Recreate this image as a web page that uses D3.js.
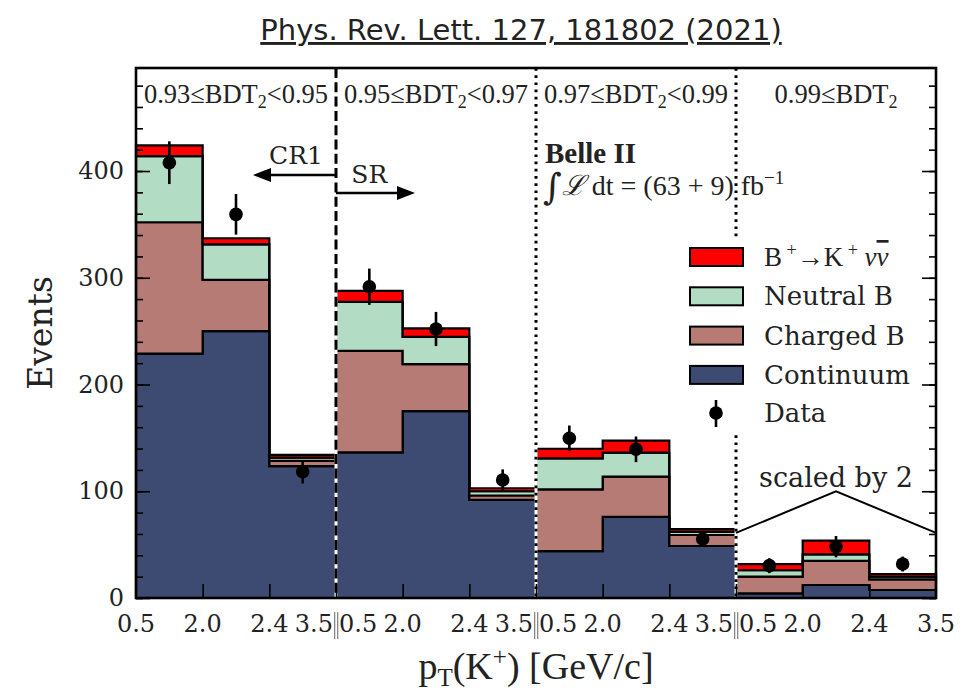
<!DOCTYPE html>
<html>
<head>
<meta charset="utf-8">
<script src="https://cdn.jsdelivr.net/npm/d3@7"></script>
<style>
  body { margin: 0; background: #fff; }
  text { font-family: "DejaVu Serif", serif; fill: #222; }
</style>
</head>
<body>
<div id="chart"></div>
<script>

// 4 BDT2 regions x 3 pT(K+) bins; last region is drawn scaled by 2
const regionLabels = [["0.93≤BDT", "2", "<0.95"], ["0.95≤BDT", "2", "<0.97"], ["0.97≤BDT", "2", "<0.99"], ["0.99≤BDT", "2", ""]];
const binEdgeLabels = ["0.5", "2.0", "2.4", "3.5"];
const yTicks = [0, 100, 200, 300, 400];

const continuum = [229, 250, 123.5, 136.5, 175, 92, 44, 76, 48.7, 4.4, 12.2, 7.5];
const chargedB  = [123, 48, 5, 95, 44, 4, 57.8, 37.7, 10.3, 15.6, 22.5, 10];
const neutralB  = [62, 33.3, 3, 46, 25.6, 4, 29, 22.5, 3, 6, 6.2, 2.5];
const signal    = [10, 5.7, 2.5, 10.3, 8, 2.8, 9, 11.2, 2.6, 5.8, 12.8, 2.5];
const dataVals  = [407.8, 359.4, 118.3, 291.6, 252, 110.5, 149.6, 139.3, 55.3, 30.3, 48.1, 31.8];
const dataErr   = [20, 19, 11, 17, 16, 10, 12, 12, 7.5, 7, 10, 7];

const keys = ["continuum", "charged", "neutral", "signal"];
const names = {neutral: "Neutral B", charged: "Charged B", continuum: "Continuum"};
const color = d3.scaleOrdinal()
  .domain(keys)
  .range(["#3d4b73", "#b67b75", "#b2dcc3", "#ff0000"]);

var margin = {top: 68, right: 26, bottom: 92, left: 136},
    W = 962, H = 690,
    width = W - margin.left - margin.right,
    height = H - margin.top - margin.bottom;

var svg = d3.select("#chart").append("svg")
  .attr("width", W).attr("height", H);

var g = svg.append("g")
  .attr("transform", "translate(" + margin.left + "," + margin.top + ")");

const x = d3.scaleLinear().domain([0, 12]).range([0, width]);
const y = d3.scaleLinear().domain([0, 496.5]).range([height, 0]);

const rows = continuum.map((c, i) => ({continuum: c, charged: chargedB[i], neutral: neutralB[i], signal: signal[i]}));
const stacked = d3.stack().keys(keys)(rows);

// stepfilled histogram, one polygon per layer per region
const line = d3.line().x(d => x(d[0])).y(d => y(d[1]));
d3.range(4).forEach(function (r) {
  stacked.forEach(function (layer) {
    var top = [], bot = [];
    for (var i = r * 3; i < r * 3 + 3; i++) {
      top.push([i, layer[i][1]], [i + 1, layer[i][1]]);
      bot.push([i, layer[i][0]], [i + 1, layer[i][0]]);
    }
    g.append("path")
      .attr("d", line(top.concat(bot.reverse())) + "Z")
      .attr("fill", color(layer.key))
      .attr("stroke", "#000")
      .attr("stroke-width", 2.2)
      .attr("stroke-linejoin", "miter");
  });
});

// region separators
const seps = [{b: 3, dash: "10,4.3"}, {b: 6, dash: "2.7,4.5"}, {b: 9, dash: "2.7,4.5"}];
seps.forEach(function (s) {
  g.append("line").attr("x1", x(s.b)).attr("x2", x(s.b)).attr("y1", 0).attr("y2", height)
    .attr("stroke", "#fff").attr("stroke-width", 3);
  g.append("line").attr("x1", x(s.b)).attr("x2", x(s.b)).attr("y1", 0).attr("y2", height)
    .attr("stroke", "#000").attr("stroke-width", 3).attr("stroke-dasharray", s.dash);
});

// data points
const pts = g.append("g");
dataVals.forEach(function (v, i) {
  pts.append("line")
    .attr("x1", x(i + 0.5)).attr("x2", x(i + 0.5))
    .attr("y1", y(v - dataErr[i])).attr("y2", y(v + dataErr[i]))
    .attr("stroke", "#000").attr("stroke-width", 2.6);
  pts.append("circle").attr("cx", x(i + 0.5)).attr("cy", y(v)).attr("r", 6.8).attr("fill", "#000");
});

// "scaled by 2" tent
g.append("path")
  .attr("d", line([[9, 61], [10.5, 100], [12, 61]]))
  .attr("fill", "none").attr("stroke", "#000").attr("stroke-width", 2);
g.append("text").attr("x", x(10.5)).attr("y", y(104))
  .attr("text-anchor", "middle").style("font-size", "27px").text("scaled by 2");

// region labels
regionLabels.forEach(function (l, r) {
  var t = g.append("text")
    .attr("x", x(r * 3 + 1.5)).attr("y", 35)
    .attr("text-anchor", "middle")
    .style("font-family", "'Liberation Serif', serif")
    .style("font-size", "26.5px");
  t.append("tspan").text(l[0]);
  t.append("tspan").attr("dy", 5).style("font-size", "18px").text(l[1]);
  t.append("tspan").attr("dy", -5).text(l[2]);
});

// CR1 / SR arrows
function arrow(x0, x1, yy) {
  var dir = x1 > x0 ? 1 : -1;
  g.append("line").attr("x1", x(x0)).attr("x2", x(x1) - dir * 12).attr("y1", yy).attr("y2", yy)
    .attr("stroke", "#000").attr("stroke-width", 2.4);
  g.append("path")
    .attr("d", "M" + x(x1) + "," + yy + "L" + (x(x1) - dir * 18) + "," + (yy - 7) + "L" + (x(x1) - dir * 18) + "," + (yy + 7) + "Z")
    .attr("fill", "#000");
}
arrow(3, 1.755, 107);
arrow(3, 4.185, 125);
g.append("text").attr("x", x(2.4)).attr("y", 96).attr("text-anchor", "middle").style("font-size", "25px").text("CR1");
g.append("text").attr("x", x(3.5)).attr("y", 115).attr("text-anchor", "middle").style("font-size", "25px").text("SR");

// Belle II label
g.append("text").attr("x", 409).attr("y", 95)
  .style("font-family", "'Liberation Serif', serif").style("font-weight", "bold").style("font-size", "29px")
  .text("Belle II");
var lumi = g.append("text").attr("x", 407).attr("y", 127)
  .style("font-family", "'Liberation Serif', serif").style("font-size", "28px");
lumi.append("tspan").style("font-size", "36px").style("font-family", "'DejaVu Serif', serif").attr("dy", 4).text("∫");
lumi.append("tspan").attr("dy", -4).style("font-style", "italic").text("ℒ");
lumi.append("tspan").text(" dt = (63 + 9) fb");
lumi.append("tspan").attr("dy", -11).style("font-size", "19px").text("−1");

// legend
var leg = g.append("g").attr("transform", "translate(" + (680 - margin.left) + "," + (238 - margin.top) + ")");
leg.append("rect").attr("width", 240).attr("height", 194).attr("fill", "#fff");
["signal", "neutral", "charged", "continuum"].forEach(function (k, i) {
  var yy = 19 + i * 39.3;
  leg.append("rect").attr("x", 10).attr("y", yy - 9).attr("width", 53).attr("height", 18)
    .attr("fill", color(k)).attr("stroke", "#000").attr("stroke-width", 2);
  var t = leg.append("text").attr("x", 84).attr("y", yy + 9).style("font-size", "26px");
  if (k === "signal") {
    t.style("font-family", "'Liberation Serif', serif").style("font-size", "27px");
    t.append("tspan").text("B");
    t.append("tspan").attr("dy", -10).style("font-size", "18px").text(" +");
    t.append("tspan").attr("dy", 10).text("→K");
    t.append("tspan").attr("dy", -10).style("font-size", "18px").text(" +");
    t.append("tspan").attr("dy", 10).style("font-style", "italic").text(" ν");
    t.append("tspan").style("font-style", "italic").style("text-decoration", "overline").text("ν");
  } else {
    t.text(names[k]);
  }
});
leg.append("line").attr("x1", 36).attr("x2", 36).attr("y1", 162).attr("y2", 189)
  .attr("stroke", "#000").attr("stroke-width", 2.6);
leg.append("circle").attr("cx", 36).attr("cy", 175).attr("r", 6.8).attr("fill", "#000");
leg.append("text").attr("x", 84).attr("y", 184).style("font-size", "26px").text("Data");

// axes: ticks inside on left, right and bottom
function ticksOnly(axis) { return function (sel) { sel.call(axis); sel.select(".domain").remove(); }; }
g.append("g").call(ticksOnly(d3.axisLeft(y).tickValues(d3.range(0, 497, 20)).tickSize(-7).tickFormat("")));
g.append("g").call(ticksOnly(d3.axisLeft(y).tickValues(yTicks).tickSize(-14).tickPadding(12)))
  .selectAll("text").style("font-size", "24px").style("font-family", "'DejaVu Serif', serif").attr("fill", "#222");
g.append("g").attr("transform", "translate(" + width + ",0)")
  .call(ticksOnly(d3.axisRight(y).tickValues(d3.range(0, 497, 20)).tickSize(-7).tickFormat("")));
g.append("g").attr("transform", "translate(" + width + ",0)")
  .call(ticksOnly(d3.axisRight(y).tickValues(yTicks).tickSize(-14).tickFormat("")));
g.append("g").attr("transform", "translate(0," + height + ")")
  .call(ticksOnly(d3.axisBottom(x).tickValues(d3.range(1, 12)).tickSize(-14).tickFormat("")));
g.selectAll(".tick line").attr("stroke", "#000").attr("stroke-width", 1.6);

// x tick labels at bin edges
const xl = g.append("g").attr("transform", "translate(0," + (height + 34) + ")")
  .style("font-size", "24px");
d3.range(0, 13).forEach(function (i) {
  if (i % 3 === 0 && i > 0 && i < 12) {
    xl.append("text").attr("x", x(i) - 3).attr("text-anchor", "end").text(binEdgeLabels[3]);
    xl.append("rect").attr("x", x(i) - 2).attr("y", -20).attr("width", 1.3).attr("height", 27).attr("fill", "#888");
    xl.append("rect").attr("x", x(i) + 1).attr("y", -20).attr("width", 1.3).attr("height", 27).attr("fill", "#888");
    xl.append("text").attr("x", x(i) + 3).attr("text-anchor", "start").text(binEdgeLabels[0]);
  } else {
    xl.append("text").attr("x", x(i)).attr("text-anchor", "middle").text(binEdgeLabels[i === 12 ? 3 : i % 3]);
  }
});

// frame
g.append("rect").attr("width", width).attr("height", height)
  .attr("fill", "none").attr("stroke", "#000").attr("stroke-width", 2.6);

// axis titles
svg.append("text").attr("transform", "translate(52," + (margin.top + height / 2) + ") rotate(-90)")
  .attr("text-anchor", "middle").style("font-size", "33px").text("Events");
var xt = svg.append("text").attr("x", margin.left + width / 2).attr("y", 679)
  .attr("text-anchor", "middle").style("font-family", "'Liberation Serif', serif").style("font-size", "38px");
xt.append("tspan").text("p");
xt.append("tspan").attr("dy", 7).style("font-size", "25px").text("T");
xt.append("tspan").attr("dy", -7).text("(K");
xt.append("tspan").attr("dy", -14).style("font-size", "25px").text("+");
xt.append("tspan").attr("dy", 14).text(") [GeV/c]");

// title
svg.append("text").attr("x", 521).attr("y", 40).attr("text-anchor", "middle")
  .style("font-family", "'DejaVu Sans', sans-serif").style("font-size", "29px")
  .style("text-decoration", "underline").attr("fill", "#111")
  .text("Phys. Rev. Lett. 127, 181802 (2021)");

</script>
</body>
</html>
